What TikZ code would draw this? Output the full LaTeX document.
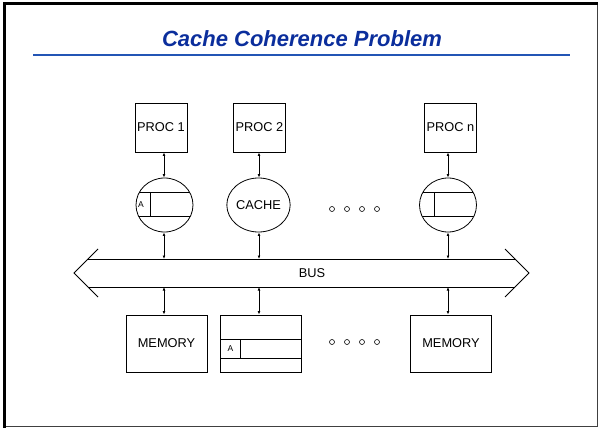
\documentclass[tikz,border=0pt]{standalone}
\usepackage{fontspec}
\setmainfont{Liberation Sans}
\usetikzlibrary{arrows.meta,shapes.geometric}
\definecolor{titleblue}{HTML}{0B2E9C}
\definecolor{ruleblue}{HTML}{2355B5}
\begin{document}
\begin{tikzpicture}[x=1pt,y=-1pt,
  lbl/.style={font=\fontsize{12.8}{15}\selectfont},
  procbox/.style={draw, line width=0.8pt, minimum width=52pt, minimum height=49pt, inner sep=0pt, lbl},
  cachebub/.style={draw, ellipse, line width=0.8pt, minimum width=57pt, minimum height=54pt, inner sep=0pt, lbl},
  membox/.style={draw, line width=0.8pt, minimum width=81pt, minimum height=57pt, inner sep=0pt, lbl},
  link/.style={line width=0.7pt, {Latex[length=3.5pt,width=2.8pt]}-{Latex[length=3.5pt,width=2.8pt]}},
  smalltag/.style={font=\fontsize{8.5}{10}\selectfont, inner sep=0pt},
  ring/.style={circle, draw, line width=0.6pt, minimum size=5pt, inner sep=0pt},
  busline/.style={line width=0.8pt}
]
\useasboundingbox (0,0) rectangle (598,428);

% slide frame
\draw[line width=1pt, black!75] (597,3) -- (597,426.5) -- (4,426.5);
\draw[line width=3pt] (4.5,428) -- (4.5,3.5) -- (598,3.5);

% title and rule
\node[font=\fontsize{22}{26}\selectfont\bfseries\itshape, text=titleblue, anchor=base, inner sep=0pt]
  (title) at (302,47) {Cache Coherence Problem};
\draw[ruleblue, line width=2pt] (33,55) -- (570,55);

% processors
\node[procbox] (p1) at (161,127.5) {PROC 1};
\node[procbox] (p2) at (259.5,127.5) {PROC 2};
\node[procbox] (pn) at (450.5,127.5) {PROC n};

% caches
\node[cachebub] (c1) at (164.5,205) {};
\node[cachebub] (c2) at (258.5,205) {CACHE};
\node[cachebub] (cn) at (448,205) {};

% cache lines inside the first and last caches
\begin{scope}
  \clip (c1.center) ellipse [x radius=28.5, y radius=27];
  \draw[line width=0.8pt] (130,192) -- (200,192) (130,216) -- (200,216) (150,192) -- (150,216);
\end{scope}
\node[smalltag] (ta) at (141,205) {A};
\begin{scope}
  \clip (cn.center) ellipse [x radius=28.5, y radius=27];
  \draw[line width=0.8pt] (410,192) -- (490,192) (410,216) -- (490,216) (434,192) -- (434,216);
\end{scope}

% ellipsis marks between caches and between memories
\foreach \i/\x in {1/332,2/347,3/362,4/377}{
  \node[ring] (du\i) at (\x,209) {};
  \node[ring] (dl\i) at (\x,342) {};
}

% bus
\coordinate (bl) at (74,273);
\coordinate (br) at (529,273);
\coordinate (blt) at (98,249);
\coordinate (blb) at (98,297);
\coordinate (brt) at (505,249);
\coordinate (brb) at (505,297);
\coordinate (bus1) at (88,259);
\coordinate (bus2) at (515,259);
\coordinate (bus3) at (88,287);
\coordinate (bus4) at (515,287);
\draw[busline] (blt) -- (bl) -- (blb);
\draw[busline] (brt) -- (br) -- (brb);
\draw[busline] (bus1) -- (bus2);
\draw[busline] (bus3) -- (bus4);
\node[lbl] (bus) at (312,273) {BUS};

% bus taps
\coordinate (t1) at (164,259);
\coordinate (t2) at (259,259);
\coordinate (tn) at (448,259);
\coordinate (m1t) at (164,287);
\coordinate (m2t) at (259,287);
\coordinate (mnt) at (448,287);

% memories
\node[membox] (m1) at (166.5,343.5) {MEMORY};
\node[membox] (m2) at (261,343.5) {};
\node[membox] (mn) at (451,343.5) {MEMORY};
\draw[line width=0.8pt] (m2.west |- 0,339) -- (m2.east |- 0,339)
  (m2.west |- 0,358) -- (m2.east |- 0,358) (240,339) -- (240,358);
\node[smalltag] (tb) at (230.5,349) {A};

% connections
\draw[link] (p1.south -| 164,0) -- (c1.north -| 164,0);
\draw[link] (p2.south -| 259,0) -- (c2.north -| 259,0);
\draw[link] (pn.south -| 448,0) -- (cn.north);
\draw[link] (c1.south -| 164,0) -- (t1);
\draw[link] (c2.south -| 259,0) -- (t2);
\draw[link] (cn.south) -- (tn);
\draw[link] (m1t) -- (m1.north -| m1t);
\draw[link] (m2t) -- (m2.north -| m2t);
\draw[link] (mnt) -- (mn.north -| mnt);
\end{tikzpicture}
\end{document}
